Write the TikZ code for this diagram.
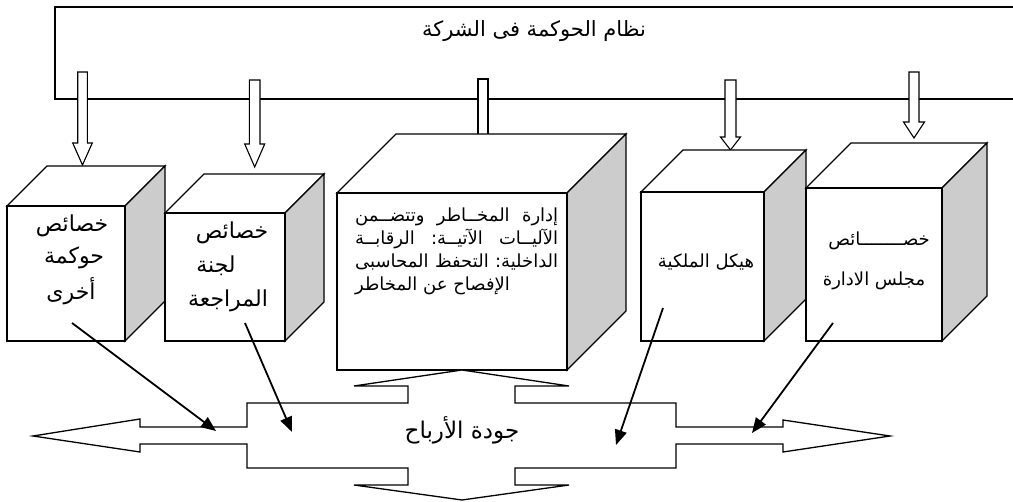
\documentclass[tikz,border=0pt]{standalone}
\usepackage{fontspec}
\newfontfamily\arabicfont[Script=Arabic]{DejaVu Sans}
\TeXXeTstate=1
\usetikzlibrary{arrows.meta,fit}
\newcommand\mycube[6]{%
  \draw[face] (#2,#3) -- (#2+#6,#3-#6) -- (#4+#6,#3-#6) -- (#4,#3) -- cycle;
  \draw[sideface] (#4,#3) -- (#4+#6,#3-#6) -- (#4+#6,#5-#6) -- (#4,#5) -- cycle;
  \node[face, fit={(#2,#3) (#4,#5)}, inner sep=0pt] (#1) {};
}
\newcommand\hollowdown[6]{% cx, top, headbase, tip, shaft half, head half
  \draw[hollow] (#1-#5,#2) -- (#1+#5,#2) -- (#1+#5,#3) -- (#1+#6,#3) -- (#1,#4)
     -- (#1-#6,#3) -- (#1-#5,#3) -- cycle;
}
\begin{document}
\begin{tikzpicture}[x=1pt,y=-1pt,
  shapeline/.style={line width=1.3pt, line join=miter},
  face/.style={shapeline, draw=black, fill=white},
  sideface/.style={shapeline, draw=black, fill=gray!40},
  hollow/.style={line width=1.1pt, draw=black, fill=white},
  conn/.style={line width=1.8pt, -{Triangle[length=15pt,width=12pt]}},
  lbl/.style={font=\arabicfont\fontsize{21}{25}\selectfont, inner sep=0pt},
  cubelbl/.style={font=\arabicfont\fontsize{22}{26}\selectfont, inner sep=0pt},
  midlbl/.style={font=\arabicfont\fontsize{18}{22}\selectfont, inner sep=0pt},
  rlbl/.style={font=\arabicfont\fontsize{18}{22}\selectfont, inner sep=0pt},
  biglbl/.style={font=\arabicfont\fontsize{23}{27}\selectfont, inner sep=0pt},
]
\useasboundingbox (0,0) rectangle (1013,502);
\fill[white] (0,0) rectangle (1013,502);

% governance frame
\coordinate (fTR) at (1013,7);
\coordinate (fTL) at (55,7);
\coordinate (fBL) at (55,99);
\coordinate (fBR) at (1013,99);
\draw[shapeline] (fTR) -- (fTL) -- (fBL) -- (fBR);
\node[lbl] (title) at (534,31) {\beginR نظام الحوكمة فى الشركة\endR};

% hollow down arrows
\hollowdown{82.5}{72}{143}{165}{4.8}{9.8}
\hollowdown{254.7}{80}{144}{167}{5.3}{10}
\draw[hollow] (478,79) rectangle (488,136);
\hollowdown{730.5}{80}{137}{150}{5.5}{10}
\hollowdown{914}{72}{122}{138}{5}{10.5}

% cubes
\mycube{cubeA}{7}{206}{125}{341}{40}
\mycube{cubeB}{165}{213}{285}{341}{39}
\mycube{cubeC}{337}{193}{567}{370}{59}
\mycube{cubeD}{641}{192}{764}{341}{42}
\mycube{cubeE}{806}{188}{942}{341}{45}

% cube texts
\node[cubelbl] (a1) at (72,226) {\beginR خصائص\endR};
\node[cubelbl] (a2) at (74,258) {\beginR حوكمة\endR};
\node[cubelbl] (a3) at (71,291) {\beginR أخرى\endR};

\node[cubelbl] (b1) at (232,233) {\beginR خصائص\endR};
\node[cubelbl] (b2) at (216,266) {\beginR لجنة\endR};
\node[cubelbl] (b3) at (228,301) {\beginR المراجعة\endR};

\node[midlbl, anchor=west] (c1) at (355,217) {\hbox to 203pt{\beginR إدارة\hfill المخــاطر\hfill وتتضــمن\endR}};
\node[midlbl, anchor=west] (c2) at (355,239) {\hbox to 203pt{\beginR الآليــات\hfill الآتيــة:\hfill الرقابــة\endR}};
\node[midlbl, anchor=west] (c3) at (355,262) {\hbox to 203pt{\beginR الداخلية:\hfill التحفظ\hfill المحاسبى\endR}};
\node[midlbl, anchor=west] (c4) at (355,286) {\beginR الإفصاح عن المخاطر\endR};

\node[rlbl] (d1) at (706,262) {\beginR هيكل الملكية\endR};

\node[rlbl] (e1) at (879,241) {\beginR خصــــــــائص\endR};
\node[rlbl] (e2) at (874,281) {\beginR مجلس الادارة\endR};

% earnings quality cross arrow
\draw[shapeline, fill=white]
  (462,370) -- (569,386) -- (515,386) -- (515,403) -- (676,403) -- (676,427)
  -- (783,427) -- (783,420) -- (890,436) -- (783,452) -- (783,444) -- (676,444)
  -- (676,468) -- (515,468) -- (515,485) -- (569,485) -- (462,500) -- (354,485)
  -- (408,485) -- (408,468) -- (247,468) -- (247,444) -- (140,444) -- (140,452)
  -- (33,436) -- (140,419) -- (140,427) -- (247,427) -- (247,403) -- (408,403)
  -- (408,386) -- (354,386) -- cycle;
\node[biglbl] (q) at (462,430) {\beginR جودة الأرباح\endR};

% connectors
\coordinate (sA) at (72,323);
\coordinate (eA) at (216,431);
\coordinate (sB) at (245,323);
\coordinate (eB) at (292,432);
\coordinate (sD) at (663,308);
\coordinate (eD) at (616,445);
\coordinate (sE) at (833,323);
\coordinate (eE) at (752,433);
\draw[conn] (sA) -- (eA);
\draw[conn] (sB) -- (eB);
\draw[conn] (sD) -- (eD);
\draw[conn] (sE) -- (eE);
\end{tikzpicture}
\end{document}
